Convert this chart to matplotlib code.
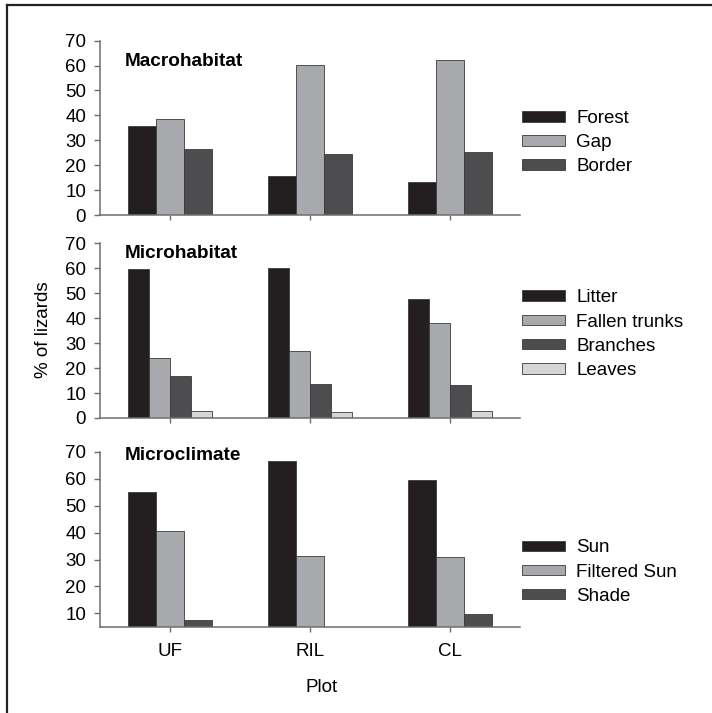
import numpy as np
import matplotlib
matplotlib.use('Agg')
import matplotlib.pyplot as plt
from matplotlib.lines import Line2D

plt.rcParams['font.family'] = ['Liberation Sans', 'DejaVu Sans']

plots = ['UF', 'RIL', 'CL']

# Macrohabitat (% of lizards)
macro_labels = ['Forest', 'Gap', 'Border']
forest = [35.9, 15.8, 13.4]
gap = [38.4, 60.2, 62.1]
border = [26.4, 24.5, 25.2]

# Microhabitat
micro_labels = ['Litter', 'Fallen trunks', 'Branches', 'Leaves']
litter = [59.7, 60.1, 47.8]
fallen_trunks = [24.0, 26.8, 38.2]
branches = [17.0, 13.5, 13.4]
leaves = [2.7, 2.4, 2.7]

# Microclimate
clim_labels = ['Sun', 'Filtered Sun', 'Shade']
sun = [55.0, 66.8, 59.6]
filtered_sun = [40.7, 31.2, 31.0]
shade = [7.4, 0.0, 9.7]

black = '#231f20'
light = '#a7a9ac'
dark = '#4d4d4f'
pale = '#d4d5d7'
axis_col = '#6d6e71'

W, H = 712, 713
fig = plt.figure(figsize=(W / 100, H / 100), dpi=100)


def px_axes(x0, y0, x1, y1):
    return fig.add_axes([x0 / W, 1 - y1 / H, (x1 - x0) / W, (y1 - y0) / H])


def draw_panel(ax, series, colors, labels, ymin, yticks, title, title_y, leg_top, show_x):
    x = np.arange(len(plots))
    n = len(series)
    group = 0.6
    w = group / n
    for i, (vals, c, lab) in enumerate(zip(series, colors, labels)):
        ax.bar(x - group / 2 + w * (i + 0.5), vals, width=w, color=c,
               edgecolor='#3a3a3a', linewidth=0.6, label=lab, zorder=2)
    ax.set_xlim(-0.5, 2.5)
    ax.set_ylim(ymin, 70)
    ax.set_yticks(yticks)
    ax.set_xticks(x)
    if show_x:
        ax.set_xticklabels(plots, fontsize=13.5)
    else:
        ax.set_xticklabels([])
    for s in ['top', 'right']:
        ax.spines[s].set_visible(False)
    for s in ['left', 'bottom']:
        ax.spines[s].set_color(axis_col)
        ax.spines[s].set_linewidth(1.1)
    ax.tick_params(axis='y', length=4, width=1, color=axis_col, pad=6, labelsize=13.5)
    ax.tick_params(axis='x', length=3.5, width=1, color=axis_col, pad=8)
    fig.text(125 / W, 1 - title_y / H, title, fontsize=13.7, fontweight='bold',
             va='center', ha='left')
    ax.legend(loc='upper left', bbox_to_anchor=(522 / W, 1 - leg_top / H),
              bbox_transform=fig.transFigure, frameon=False, fontsize=13.5,
              borderpad=0, borderaxespad=0, handlelength=2.3, handleheight=0.5,
              handletextpad=0.6, labelspacing=0.38)


ax1 = px_axes(100, 40.7, 520, 215)
draw_panel(ax1, [forest, gap, border], [black, light, dark], macro_labels,
           0, range(0, 71, 10), 'Macrohabitat', 61.5, 110, False)

ax2 = px_axes(100, 243.3, 520, 418)
draw_panel(ax2, [litter, fallen_trunks, branches, leaves], [black, light, dark, pale],
           micro_labels, 0, range(0, 71, 10), 'Microhabitat', 253, 289.5, False)

ax3 = px_axes(100, 452, 520, 626.7)
draw_panel(ax3, [sun, filtered_sun, shade], [black, light, dark], clim_labels,
           5, range(10, 71, 10), 'Microclimate', 456, 539.5, True)

fig.text(44 / W, 1 - 330 / H, '% of lizards', rotation=90, fontsize=13.5,
         va='center', ha='center')
fig.text(322 / W, 1 - 688 / H, 'Plot', fontsize=13.5, va='center', ha='center')

# outer frame (top and left edges)
fig.add_artist(Line2D([7 / W, 7 / W], [0, 1 - 5 / H], transform=fig.transFigure,
                      color='#222222', linewidth=1.6))
fig.add_artist(Line2D([7 / W, 1], [1 - 5 / H, 1 - 5 / H], transform=fig.transFigure,
                      color='#222222', linewidth=1.6))

fig.savefig('out.png', dpi=100)
